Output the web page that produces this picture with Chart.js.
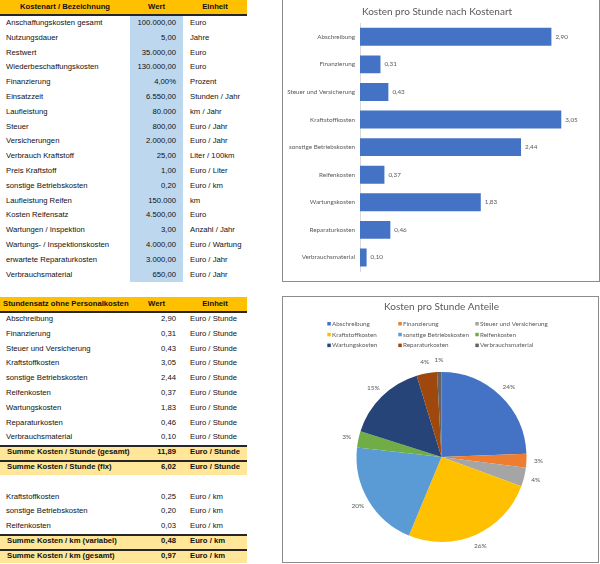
<!DOCTYPE html>
<html>
<head>
<meta charset="utf-8">
<script src="https://cdn.jsdelivr.net/npm/chart.js@4"></script>
<style>
  body { margin: 0; width: 600px; height: 564px; overflow: hidden; background: #fff; position: relative;
         font-family: "Liberation Sans", Arial, sans-serif; font-size: 7.7px; color: #111; }
  .row { position: absolute; left: 0; width: 247px; height: 14.8px; line-height: 14.8px; }
  .row div { position: absolute; top: 0; height: 100%; white-space: nowrap; }
  .lab { left: 6px; }
  .val { left: 130px; width: 46px; text-align: right; }
  .unit { left: 190px; }
  .head { background: #FFC000; font-weight: bold; height: 14px; line-height: 14px; border-bottom: 2px solid #262626; }
  .sum { background: #FFE699; font-weight: bold; box-shadow: inset 0 2px 0 #262626; }
  .blue { position: absolute; left: 130px; width: 53px; background: #BDD7EE; }
  .box { position: absolute; border: 1px solid #8c8c8c; }
  canvas { position: absolute; }
</style>
</head>
<body>
<div class="box" style="left:282px; top:-2px; width:316px; height:282px;"></div>
<div class="box" style="left:282px; top:296px; width:315px; height:265px;"></div>
<canvas id="barChart" width="315" height="281" style="left:283px; top:-1px;"></canvas>
<canvas id="pieChart" width="314" height="264" style="left:283px; top:297px;"></canvas>
<script>
// Eingabetabelle
let inputLabels = ["Anschaffungskosten gesamt", "Nutzungsdauer", "Restwert", "Wiederbeschaffungskosten",
  "Finanzierung", "Einsatzzeit", "Laufleistung", "Steuer", "Versicherungen", "Verbrauch Kraftstoff",
  "Preis Kraftstoff", "sonstige Betriebskosten", "Laufleistung Reifen", "Kosten Reifensatz",
  "Wartungen / Inspektion", "Wartungs- / Inspektionskosten", "erwartete Reparaturkosten", "Verbrauchsmaterial"];
let inputValues = ["100.000,00", "5,00", "35.000,00", "130.000,00", "4,00%", "6.550,00", "80.000", "800,00",
  "2.000,00", "25,00", "1,00", "0,20", "150.000", "4.500,00", "3,00", "4.000,00", "3.000,00", "650,00"];
let inputUnits = ["Euro", "Jahre", "Euro", "Euro", "Prozent", "Stunden / Jahr", "km / Jahr", "Euro / Jahr",
  "Euro / Jahr", "Liter / 100km", "Euro / Liter", "Euro / km", "km", "Euro", "Anzahl / Jahr",
  "Euro / Wartung", "Euro / Jahr", "Euro / Jahr"];

// Kosten pro Stunde (Charts + zweite Tabelle)
let categories = ["Abschreibung", "Finanzierung", "Steuer und Versicherung", "Kraftstoffkosten",
  "sonstige Betriebskosten", "Reifenkosten", "Wartungskosten", "Reparaturkosten", "Verbrauchsmaterial"];
let costPerHour = [2.90, 0.31, 0.43, 3.05, 2.44, 0.37, 1.83, 0.46, 0.10];
let pieColors = ["#4472C4", "#ED7D31", "#A5A5A5", "#FFC000", "#5B9BD5", "#70AD47", "#264478", "#9E480E", "#636363"];
let hourSums = [["Summe Kosten / Stunde (gesamt)", 11.89], ["Summe Kosten / Stunde (fix)", 6.02]];

// Kosten pro km
let kmLabels = ["Kraftstoffkosten", "sonstige Betriebskosten", "Reifenkosten"];
let costPerKm = [0.25, 0.20, 0.03];
let kmSums = [["Summe Kosten / km (variabel)", 0.48], ["Summe Kosten / km (gesamt)", 0.97]];

let fmt = (v) => v.toFixed(2).replace(".", ",");
let rowH = 14.8;

function addRow(top, label, value, unit, cls) {
  let r = document.createElement("div");
  r.className = "row" + (cls ? " " + cls : "");
  r.style.top = top + "px";
  r.innerHTML = '<div class="lab">' + label + '</div><div class="val">' + value +
    '</div><div class="unit">' + unit + '</div>';
  document.body.appendChild(r);
  return r;
}

// Tabelle 1
let blue = document.createElement("div");
blue.className = "blue";
blue.style.top = "16px";
blue.style.height = (inputLabels.length * rowH) + "px";
document.body.appendChild(blue);

let h1 = addRow(0, "Kostenart / Bezeichnung", "Wert", "Einheit", "head");
h1.children[0].style.cssText = "left:0;width:130px;text-align:center";
h1.children[1].style.cssText = "left:130px;width:53px;text-align:center";
h1.children[2].style.cssText = "left:183px;width:64px;text-align:center";
inputLabels.forEach((l, i) => addRow(16 + i * rowH, l, inputValues[i], inputUnits[i]));

// Tabelle 2
let t2 = 311.9;
let h2 = addRow(297, "Stundensatz ohne Personalkosten", "Wert", "Einheit", "head");
h2.children[0].style.left = "3px";
h2.children[1].style.cssText = "left:130px;width:53px;text-align:center";
h2.children[2].style.cssText = "left:183px;width:64px;text-align:center";
categories.forEach((c, i) => addRow(t2 + i * rowH, c, fmt(costPerHour[i]), "Euro / Stunde"));
hourSums.forEach((s, i) => addRow(t2 + (9 + i) * rowH, s[0], fmt(s[1]), "Euro / Stunde", "sum"));
kmLabels.forEach((c, i) => addRow(t2 + (12 + i) * rowH, c, fmt(costPerKm[i]), "Euro / km"));
kmSums.forEach((s, i) => addRow(t2 + (15 + i) * rowH, s[0], fmt(s[1]), "Euro / km", "sum"));
document.querySelectorAll(".sum .lab").forEach(e => e.style.left = "7px");

let chartFont = "Lato, 'Liberation Sans', sans-serif";
let grey = "#595959";

let barLabels = {
  id: "barLabels",
  afterDatasetsDraw(chart) {
    let ctx = chart.ctx;
    ctx.save();
    ctx.font = "6.3px " + chartFont;
    ctx.fillStyle = grey;
    ctx.textBaseline = "middle";
    chart.getDatasetMeta(0).data.forEach((bar, i) => {
      ctx.fillText(fmt(costPerHour[i]), bar.x + 4, bar.y);
    });
    ctx.restore();
  }
};

new Chart(document.getElementById("barChart"), {
  type: "bar",
  data: {
    labels: categories,
    datasets: [{ data: costPerHour, backgroundColor: "#4472C4", barPercentage: 0.65, categoryPercentage: 1 }]
  },
  options: {
    indexAxis: "y",
    responsive: false,
    animation: false,
    layout: { padding: { top: 0, right: 7, bottom: 6, left: 0 } },
    plugins: {
      legend: { display: false },
      tooltip: { enabled: false },
      title: { display: true, text: "Kosten pro Stunde nach Kostenart", color: grey,
        font: { size: 10, family: chartFont, weight: "normal" }, padding: { top: 7, bottom: 5 } }
    },
    scales: {
      x: { min: 0, max: 3.5, display: false },
      y: {
        grid: { display: false, drawTicks: false },
        border: { color: "#d9d9d9" },
        ticks: { color: grey, font: { size: 6.3, family: chartFont }, padding: 5 },
        afterFit: (s) => { s.width = 77; }
      }
    }
  },
  plugins: [barLabels]
});

// Prozente wie Excel (Summe 100)
function percents(vals) {
  let total = vals.reduce((a, b) => a + b, 0);
  let raw = vals.map(v => v / total * 100);
  let out = raw.map(Math.floor);
  let rest = 100 - out.reduce((a, b) => a + b, 0);
  raw.map((r, i) => [r - Math.floor(r), i]).sort((a, b) => b[0] - a[0])
    .slice(0, rest).forEach(p => out[p[1]]++);
  return out;
}
let pct = percents(costPerHour);

let pieExtras = {
  id: "pieExtras",
  afterDraw(chart) {
    let ctx = chart.ctx;
    ctx.save();
    ctx.font = "6.5px " + chartFont;
    ctx.fillStyle = grey;
    ctx.textAlign = "center";
    ctx.textBaseline = "middle";
    chart.getDatasetMeta(0).data.forEach((arc, i) => {
      let p = arc.getProps(["x", "y", "startAngle", "endAngle", "outerRadius"], true);
      let a = (p.startAngle + p.endAngle) / 2;
      let r = p.outerRadius + 12;
      ctx.fillText(pct[i] + "%", p.x + Math.cos(a) * r, p.y + Math.sin(a) * r);
    });
    // Legende in 3 Spalten
    ctx.textAlign = "left";
    ctx.font = "6.3px " + chartFont;
    let cols = [-111, -40, 37];
    categories.forEach((c, i) => {
      let x = chart.width / 2 + cols[i % 3];
      let y = 26.7 + Math.floor(i / 3) * 10.8;
      ctx.fillStyle = pieColors[i];
      ctx.fillRect(x - 1.7, y - 1.7, 3.5, 3.5);
      ctx.fillStyle = grey;
      ctx.fillText(c, x + 3, y);
    });
    ctx.restore();
  }
};

new Chart(document.getElementById("pieChart"), {
  type: "pie",
  data: {
    labels: categories,
    datasets: [{ data: costPerHour, backgroundColor: pieColors, borderWidth: 0 }]
  },
  options: {
    responsive: false,
    animation: false,
    layout: { padding: { top: 0, right: 0, bottom: 19, left: 3 } },
    plugins: {
      legend: { display: false },
      tooltip: { enabled: false },
      title: { display: true, text: "Kosten pro Stunde Anteile", color: grey,
        font: { size: 10, family: chartFont, weight: "normal" }, padding: { top: 4, bottom: 59 } }
    }
  },
  plugins: [pieExtras]
});
</script>
</body>
</html>
